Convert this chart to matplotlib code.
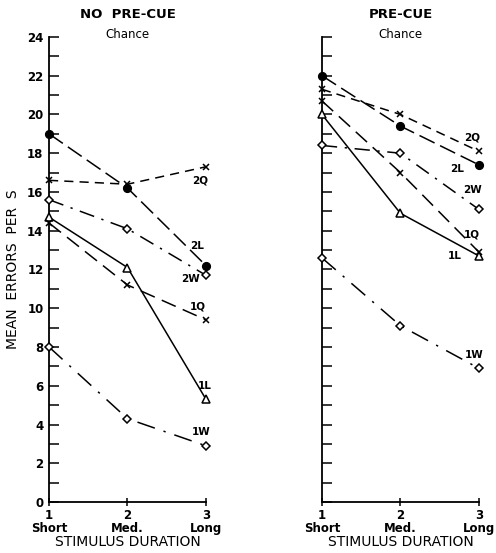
import matplotlib

matplotlib.use("Agg")
import matplotlib.pyplot as plt
from matplotlib.ticker import MultipleLocator

durations = [1, 2, 3]
duration_labels = ["1\nShort", "2\nMed.", "3\nLong"]
series = ["2L", "2Q", "2W", "1L", "1Q", "1W"]

# mean errors per subject
no_precue = {
    "2L": [19.0, 16.2, 12.2],
    "2Q": [16.6, 16.4, 17.3],
    "2W": [15.6, 14.1, 11.7],
    "1L": [14.7, 12.1, 5.3],
    "1Q": [14.4, 11.2, 9.4],
    "1W": [8.0, 4.3, 2.9],
}
precue = {
    "2L": [22.0, 19.4, 17.4],
    "2Q": [21.3, 20.0, 18.1],
    "2W": [18.4, 18.0, 15.1],
    "1L": [20.0, 14.9, 12.7],
    "1Q": [20.7, 17.0, 12.9],
    "1W": [12.6, 9.1, 6.9],
}

styles = {
    "2L": dict(marker="o", mfc="black", ls=(0, (11, 4))),
    "2Q": dict(marker="x", mfc="black", ls=(0, (6, 4))),
    "2W": dict(marker="D", mfc="white", ls=(0, (10, 5, 1.5, 5))),
    "1L": dict(marker="^", mfc="white", ls="-"),
    "1Q": dict(marker="x", mfc="black", ls=(0, (10, 5))),
    "1W": dict(marker="D", mfc="white", ls=(0, (12, 6, 1.5, 6))),
}
marker_size = {"o": 5.5, "x": 5, "D": 4, "^": 5.5}

# where each curve's tag sits (data coords)
label_pos_left = {
    "2Q": (2.92, 16.6), "2L": (2.89, 13.2), "2W": (2.80, 11.5),
    "1Q": (2.90, 10.1), "1L": (2.99, 6.0), "1W": (2.94, 3.6),
}
label_pos_right = {
    "2Q": (2.92, 18.8), "2L": (2.72, 17.2), "2W": (2.92, 16.1),
    "1Q": (2.91, 13.8), "1L": (2.69, 12.7), "1W": (2.94, 7.6),
}

fig = plt.figure(figsize=(4.96, 5.53), dpi=100)
ax_l = fig.add_axes([0.0988, 0.0922, 0.3165, 0.841])
ax_r = fig.add_axes([0.649, 0.0922, 0.3165, 0.841])

panels = [
    (ax_l, no_precue, label_pos_left, "NO  PRE-CUE", True),
    (ax_r, precue, label_pos_right, "PRE-CUE", False),
]

for ax, data, lpos, title, show_y in panels:
    for name in series:
        st = styles[name]
        ax.plot(durations, data[name], color="black", lw=1.1, ls=st["ls"],
                marker=st["marker"], mfc=st["mfc"], mec="black", mew=1.1,
                ms=marker_size[st["marker"]], clip_on=False, zorder=3)
        x, y = lpos[name]
        ax.text(x, y, name, ha="center", va="center", fontsize=7.5,
                fontweight="bold")

    ax.set_xlim(1, 3)
    ax.set_ylim(0, 24)
    for side in ["top", "right"]:
        ax.spines[side].set_visible(False)
    for side in ["left", "bottom"]:
        ax.spines[side].set_linewidth(1.3)

    ax.yaxis.set_major_locator(MultipleLocator(2))
    ax.yaxis.set_minor_locator(MultipleLocator(1))
    ax.tick_params(axis="y", which="both", direction="in", length=7,
                   width=1.1, labelsize=8.5, pad=4)
    if not show_y:
        ax.tick_params(axis="y", labelleft=False)
    else:
        for lab in ax.get_yticklabels():
            lab.set_fontweight("bold")
        ax.set_ylabel("MEAN  ERRORS  PER  S", fontsize=10, labelpad=5)

    ax.set_xticks(durations)
    ax.set_xticklabels(duration_labels, fontsize=8.5, fontweight="bold",
                       linespacing=1.0)
    ax.tick_params(axis="x", direction="inout", length=6, width=1.1, pad=2)
    ax.set_xlabel("STIMULUS DURATION", fontsize=10, labelpad=0)

    # panel heading above the axis, "Chance" level with the 24 tick
    pos = ax.get_position()
    xc = pos.x0 + pos.width / 2
    fig.text(xc, 0.973, title, ha="center", va="center", fontsize=9.5,
             fontweight="bold")
    fig.text(xc, 0.937, "Chance", ha="center", va="center", fontsize=8.5)

fig.savefig("out.png", dpi=100)
